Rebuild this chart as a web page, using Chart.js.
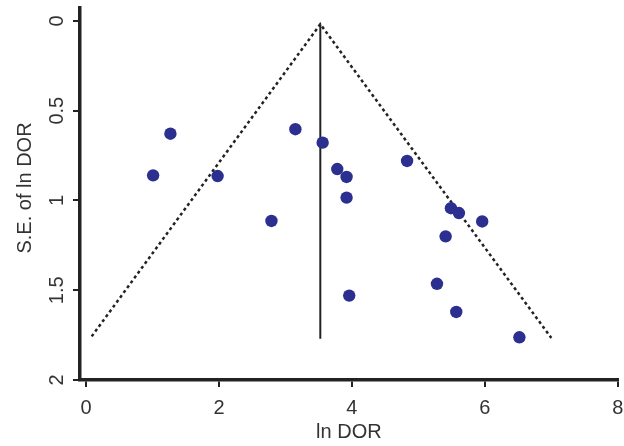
<!DOCTYPE html>
<html>
<head>
<meta charset="utf-8">
<script src="https://cdn.jsdelivr.net/npm/chart.js@4/dist/chart.umd.min.js"></script>
<style>
html,body{margin:0;padding:0;background:#fff;}
#wrap{width:624px;height:446px;}
</style>
</head>
<body>
<div id="wrap"><canvas id="c" width="624" height="446"></canvas></div>
<script>
// Study points
const lnDOR = [1.01, 1.27, 1.98, 2.79, 3.15, 3.56, 3.78, 3.92, 3.92, 4.83, 5.49, 5.61, 5.96, 5.41, 5.28, 3.96, 5.57, 6.52];
const seLnDOR = [0.86, 0.628, 0.864, 1.114, 0.603, 0.678, 0.825, 0.869, 0.984, 0.78, 1.043, 1.07, 1.117, 1.2, 1.464, 1.53, 1.621, 1.762];
// Funnel (pseudo 95% CI limits) and summary line
const funnelX = [0.086, 3.525, 7.0];
const funnelY = [1.757, 0.018, 1.766];
const summaryX = [3.525, 3.525];
const summaryY = [0.018, 1.77];
// Tick labels
const xTicks = [0, 2, 4, 6, 8];
const yTicks = [0, 0.5, 1, 1.5, 2];

const ink = '#222222';
const textCol = '#333333';
const fontFamily = '"Liberation Sans", Arial, sans-serif';
const font = {family: fontFamily, size: 20};

const pts = lnDOR.map((v, i) => ({x: v, y: seLnDOR[i]}));
const funnel = funnelX.map((v, i) => ({x: v, y: funnelY[i]}));
const summary = summaryX.map((v, i) => ({x: v, y: summaryY[i]}));

new Chart(document.getElementById('c'), {
  type: 'scatter',
  data: {
    datasets: [
      {data: funnel, showLine: true, borderColor: ink, borderWidth: 2.5, borderDash: [3, 3], pointRadius: 0, fill: false, order: 2},
      {data: summary, showLine: true, borderColor: ink, borderWidth: 2, pointRadius: 0, fill: false, order: 2},
      {data: pts, pointRadius: 6.2, pointBackgroundColor: '#2b3090', pointBorderWidth: 0, borderColor: '#2b3090', order: 1}
    ]
  },
  options: {
    responsive: false,
    animation: false,
    layout: {padding: {top: 8, right: 0, left: 0, bottom: 0}},
    plugins: {legend: {display: false}, tooltip: {enabled: false}},
    scales: {
      x: {
        type: 'linear', position: 'bottom',
        min: -0.09, max: 8.0,
        afterBuildTicks: s => { s.ticks = xTicks.map(v => ({value: v})); },
        afterFit: s => { s.height = 66; s.paddingLeft = 0; s.paddingRight = 0; },
        ticks: {includeBounds: false, color: textCol, font: font, padding: 9, maxRotation: 0,
          callback: v => String(v)},
        grid: {display: true, drawOnChartArea: false, drawTicks: true, tickLength: 7, tickWidth: 2, color: ink, lineWidth: 2},
        border: {display: true, color: ink, width: 3.5},
        title: {display: true, text: 'ln DOR', color: textCol, font: font, padding: {top: 0, bottom: 2}}
      },
      y: {
        type: 'linear', position: 'left', reverse: true,
        min: -0.072, max: 2,
        afterBuildTicks: s => { s.ticks = yTicks.map(v => ({value: v})); },
        afterFit: s => { s.width = 80; s.paddingTop = 0; s.paddingBottom = 0; },
        ticks: {display: false, includeBounds: false},
        grid: {display: true, drawOnChartArea: false, drawTicks: true, tickLength: 7, tickWidth: 2, color: ink, lineWidth: 2},
        border: {display: true, color: ink, width: 3.5},
        title: {display: false}
      }
    }
  },
  plugins: [{
    id: 'yTexts',
    afterDraw(chart) {
      const ctx = chart.ctx;
      const ys = chart.scales.y;
      ctx.save();
      ctx.fillStyle = textCol;
      ctx.font = '20px ' + fontFamily;
      ctx.textAlign = 'center';
      ctx.textBaseline = 'middle';
      // rotated tick labels (read bottom-to-top)
      ys.ticks.forEach(t => {
        const py = ys.getPixelForValue(t.value);
        ctx.save();
        ctx.translate(57, py);
        ctx.rotate(-Math.PI / 2);
        ctx.fillText(String(t.value), 0, 0);
        ctx.restore();
      });
      // axis title
      ctx.translate(25, 188);
      ctx.rotate(-Math.PI / 2);
      ctx.fillText('S.E. of ln DOR', 0, 0);
      ctx.restore();
    }
  }]
});
</script>
</body>
</html>
